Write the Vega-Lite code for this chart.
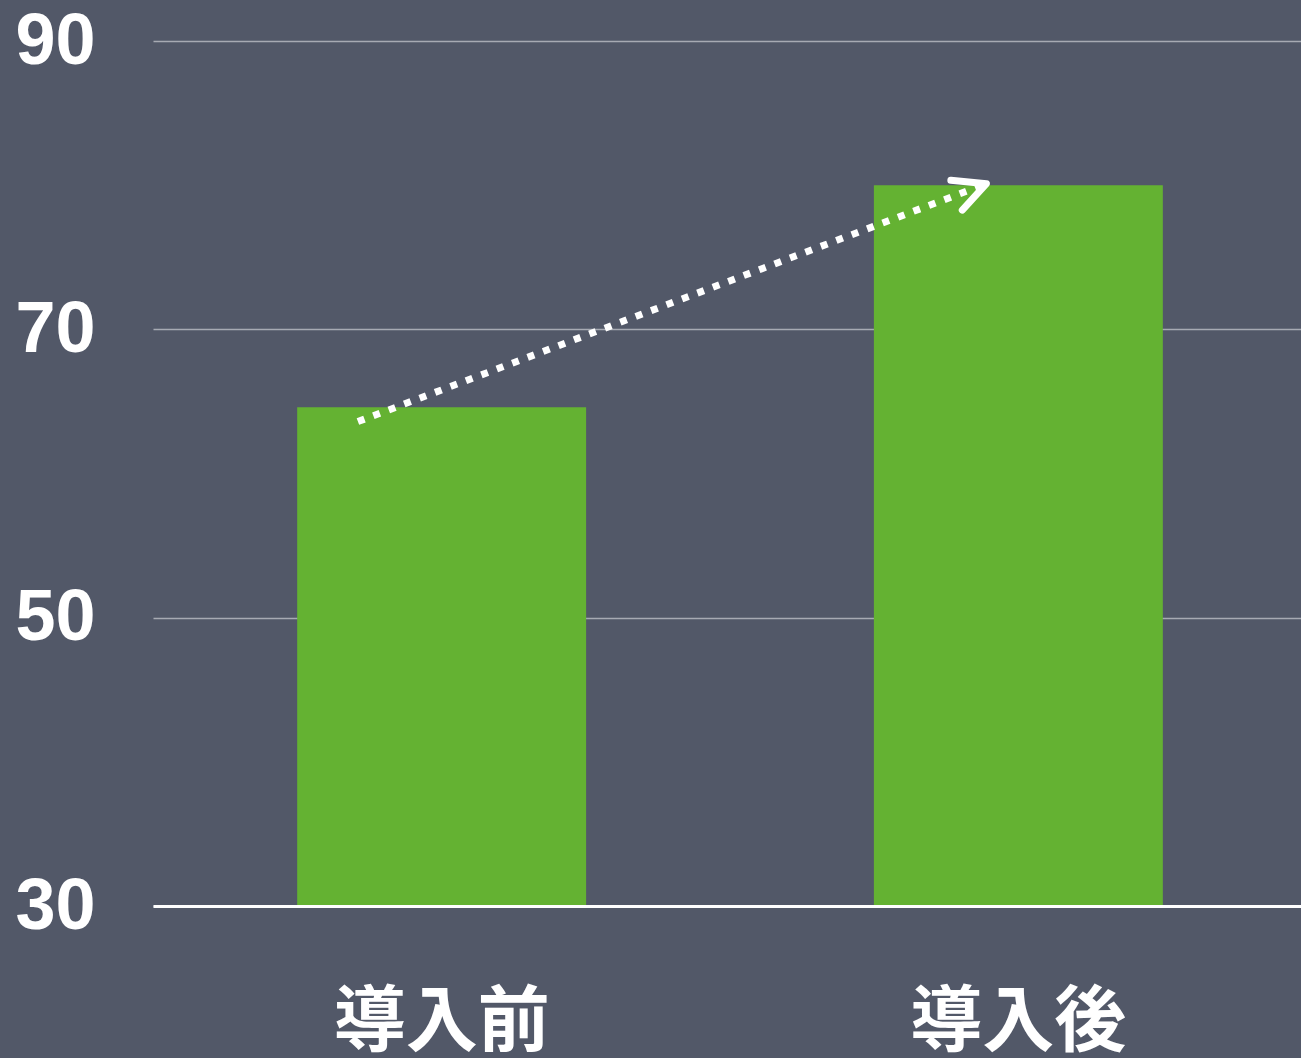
{
  "$schema": "https://vega.github.io/schema/vega-lite/v6.json",
  "width": 1148,
  "height": 865,
  "autosize": {"type": "none"},
  "padding": {"left": 153, "top": 41, "right": 0, "bottom": 152},
  "background": "#525868",
  "config": {"view": {"stroke": null}},
  "datasets": {
    "bars": [
      {"phase": "導入前", "value": 64.6},
      {"phase": "導入後", "value": 80.0}
    ],
    "arrow": [
      {"pos": 0.357, "value": 63.6, "end": false},
      {"pos": 1.452, "value": 80.1, "end": true}
    ]
  },
  "layer": [
    {
      "data": {"name": "bars"},
      "mark": {"type": "bar", "color": "#64b232", "clip": true},
      "encoding": {
        "x": {
          "field": "phase", "type": "nominal", "sort": null,
          "scale": {"paddingInner": 0.499, "paddingOuter": 0.25, "range": [0, 1154]},
          "axis": {
            "title": null, "labelAngle": 0, "ticks": false, "tickSize": 0,
            "labelFont": "Noto Sans CJK JP", "labelFontWeight": "bold",
            "labelFontSize": 72, "labelColor": "#ffffff", "labelLimit": 0,
            "labelBaseline": "middle", "labelPadding": 116,
            "domain": true, "domainColor": "#ffffff", "domainWidth": 3,
            "grid": false, "zindex": 1
          }
        },
        "y": {
          "field": "value", "type": "quantitative",
          "scale": {"domain": [30, 90], "nice": false, "zero": false},
          "axis": {
            "title": null, "values": [30, 50, 70, 90], "ticks": false, "tickSize": 0,
            "labelFont": "Liberation Sans", "labelFontWeight": "bold",
            "labelFontSize": 72, "labelColor": "#ffffff",
            "labelAlign": "left", "labelBaseline": "middle", "labelPadding": 138,
            "domain": false,
            "grid": true, "gridColor": "#a7aab3", "gridWidth": 1.5
          }
        }
      }
    },
    {
      "data": {"name": "arrow"},
      "mark": {"type": "line", "color": "#ffffff", "strokeWidth": 7, "strokeDash": [7, 9.5]},
      "encoding": {
        "x": {"field": "pos", "type": "quantitative", "scale": {"domain": [0, 2], "nice": false, "zero": false}, "axis": null},
        "y": {"field": "value", "type": "quantitative"}
      }
    },
    {
      "data": {"name": "arrow"},
      "transform": [{"filter": "datum.end"}],
      "mark": {"type": "point", "shape": "M-1,-0.5L0,0L-1,0.5", "filled": false, "size": 4096, "angle": 339, "color": "#ffffff", "strokeWidth": 7, "strokeCap": "round", "strokeJoin": "round", "opacity": 1},
      "encoding": {
        "x": {"field": "pos", "type": "quantitative", "scale": {"domain": [0, 2], "nice": false, "zero": false}, "axis": null},
        "y": {"field": "value", "type": "quantitative"}
      }
    }
  ],
  "resolve": {"scale": {"x": "independent"}, "axis": {"x": "independent"}}
}
